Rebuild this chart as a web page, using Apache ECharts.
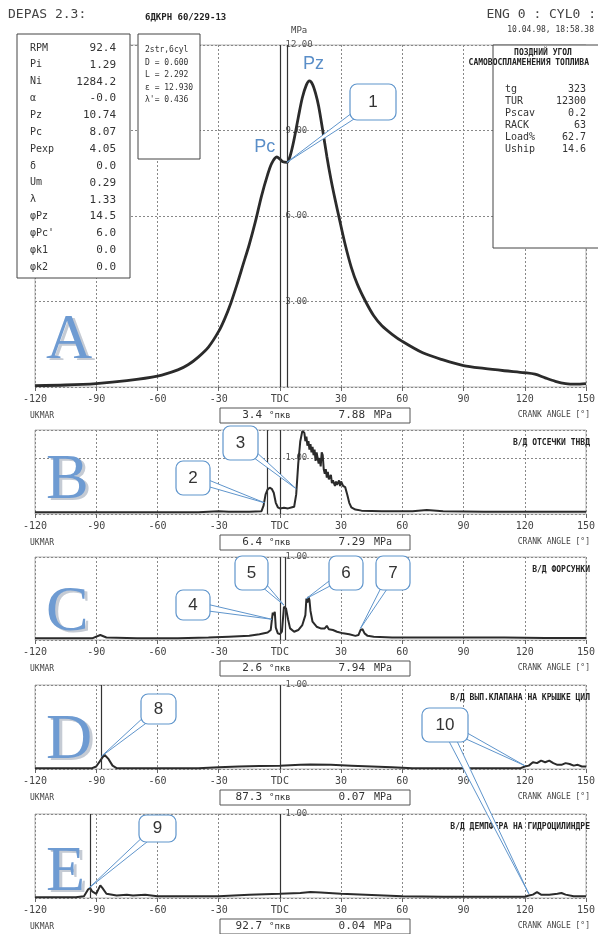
<!DOCTYPE html>
<html>
<head>
<meta charset="utf-8">
<script src="https://cdn.jsdelivr.net/npm/echarts@6/dist/echarts.min.js"></script>
<style>
  html, body { margin: 0; padding: 0; background: #fff; }
  #chart { width: 598px; height: 934px; }
</style>
</head>
<body>
<div id="chart"></div>
<script>
// A - давление в цилиндре
const angleA = [-120, -105, -90, -75, -60, -50, -45, -40, -35, -30, -27, -24, -21, -18, -15, -12, -9, -6, -4, -1.5, 0, 1.5, 3.4, 5, 7, 9, 11, 13, 14.5, 16, 17.5, 19, 21, 23, 25, 27, 29, 32, 35, 38, 42, 46, 50, 55, 60, 70, 80, 90, 100, 110, 120, 125, 130, 135, 140, 145, 150]
const pressA = [0.05, 0.07, 0.12, 0.22, 0.38, 0.6, 0.78, 1.05, 1.4, 1.95, 2.4, 2.95, 3.6, 4.3, 5.0, 5.8, 6.7, 7.45, 7.85, 8.07, 8.0, 7.9, 7.88, 8.1, 8.7, 9.45, 10.15, 10.6, 10.74, 10.62, 10.3, 9.85, 9.0, 8.1, 7.3, 6.6, 5.95, 5.0, 4.2, 3.6, 3.0, 2.5, 2.15, 1.85, 1.6, 1.2, 0.95, 0.75, 0.65, 0.57, 0.5, 0.45, 0.32, 0.2, 0.12, 0.1, 0.12]

// B - в/д отсечки ТНВД
const angleB = [-120, -100, -80, -60, -40, -30, -25, -15, -9, -8, -7, -6, -5, -4, -3, -2, -1, 0, 2, 4, 6, 7, 8, 9, 10, 11, 12, 12.5, 13, 13.5, 14, 14.5, 15, 15.5, 16, 16.5, 17, 17.5, 18, 18.5, 19, 19.5, 20, 20.5, 21, 21.5, 22, 22.5, 23, 23.5, 24, 25, 25.5, 26, 27, 27.5, 28, 29, 29.5, 30, 31, 32, 33, 34, 35, 37, 40, 50, 65, 72, 80, 100, 120, 150]
const pressB = [0.03, 0.03, 0.03, 0.03, 0.03, 0.05, 0.04, 0.04, 0.05, 0.15, 0.35, 0.44, 0.47, 0.45, 0.38, 0.2, 0.12, 0.1, 0.11, 0.1, 0.12, 0.13, 0.35, 0.9, 1.3, 1.48, 1.45, 1.3, 1.38, 1.22, 1.3, 1.15, 1.25, 1.1, 1.2, 1.05, 1.15, 0.95, 1.1, 1.0, 0.9, 1.0, 0.85, 1.1, 1.05, 0.8, 0.72, 0.8, 0.65, 0.75, 0.62, 0.7, 0.55, 0.6, 0.5, 0.58, 0.52, 0.6, 0.5, 0.58, 0.5, 0.48, 0.35, 0.2, 0.12, 0.08, 0.06, 0.05, 0.05, 0.07, 0.05, 0.04, 0.04, 0.04]

// C - в/д форсунки
const angleC = [-120, -100, -92, -88, -85, -70, -50, -35, -25, -15, -10, -6, -4.5, -3.5, -3, -2.5, -2, -1, 0, 1, 2, 2.5, 3, 3.5, 4, 5, 7, 9, 11, 12.5, 13, 13.5, 14, 14.5, 15, 16, 18, 20, 22, 23, 24, 26, 28, 31, 34, 37, 38.5, 39.5, 40.5, 41.5, 43, 46, 55, 70, 90, 110, 130, 150]
const pressC = [0.02, 0.02, 0.02, 0.06, 0.03, 0.02, 0.02, 0.03, 0.04, 0.05, 0.07, 0.09, 0.12, 0.33, 0.3, 0.34, 0.15, 0.08, 0.07, 0.1, 0.4, 0.42, 0.38, 0.4, 0.25, 0.14, 0.1, 0.12, 0.18, 0.3, 0.5, 0.45, 0.52, 0.48, 0.35, 0.22, 0.16, 0.14, 0.14, 0.17, 0.13, 0.12, 0.1, 0.08, 0.07, 0.05, 0.06, 0.12, 0.13, 0.08, 0.05, 0.04, 0.03, 0.03, 0.03, 0.03, 0.025, 0.025]

// D - в/д вып. клапана
const angleD = [-120, -100, -92, -90, -88, -86, -84, -82, -80, -60, -40, -30, -20, -10, 0, 10, 15, 25, 35, 45, 55, 65, 80, 100, 118, 120, 122, 124, 126, 128, 130, 132, 134, 136, 138, 140, 142, 144, 146, 148, 150]
const pressD = [0.01, 0.01, 0.01, 0.03, 0.1, 0.17, 0.12, 0.04, 0.01, 0.01, 0.01, 0.02, 0.03, 0.035, 0.04, 0.05, 0.055, 0.05, 0.04, 0.03, 0.02, 0.01, 0.01, 0.01, 0.01, 0.03, 0.04, 0.08, 0.07, 0.1, 0.08, 0.1, 0.07, 0.05, 0.05, 0.07, 0.06, 0.04, 0.05, 0.03, 0.03]

// E - в/д демпфера
const angleE = [-120, -100, -96, -94, -93, -92, -90, -89, -88, -87, -85, -80, -75, -72, -66, -60, -45, -30, -15, 0, 10, 15, 20, 30, 45, 60, 80, 100, 120, 122, 124, 126, 128, 132, 136, 138, 140, 144, 148, 150]
const pressE = [0.01, 0.01, 0.02, 0.1, 0.12, 0.08, 0.05, 0.1, 0.15, 0.12, 0.05, 0.03, 0.04, 0.03, 0.04, 0.02, 0.02, 0.02, 0.04, 0.05, 0.06, 0.07, 0.065, 0.05, 0.035, 0.02, 0.015, 0.015, 0.015, 0.03, 0.04, 0.07, 0.04, 0.04, 0.05, 0.06, 0.04, 0.02, 0.02, 0.02]

const yMax = [12, 1.5, 1, 1, 1]
const yStep = [3, 1, 1, 1, 1]
const cursorAngle = [3.4, -6.4, 2.6, -87.3, -92.7]
const readAngle = ['3.4', '6.4', '2.6', '87.3', '92.7']
const readPress = ['7.88', '7.29', '7.94', '0.07', '0.04']
const panelTitles = ['', 'В/Д ОТСЕЧКИ ТНВД', 'В/Д ФОРСУНКИ', 'В/Д ВЫП.КЛАПАНА НА КРЫШКЕ ЦИЛ', 'В/Д ДЕМПФЕРА НА ГИДРОЦИЛИНДРЕ']
const panelLetters = ['A', 'B', 'C', 'D', 'E']

const infoLabels = ['RPM', 'Pi', 'Ni', 'α', 'Pz', 'Pc', 'Pexp', 'δ', 'Um', 'λ', 'φPz', 'φPc\'', 'φk1', 'φk2']
const infoValues = ['92.4', '1.29', '1284.2', '-0.0', '10.74', '8.07', '4.05', '0.0', '0.29', '1.33', '14.5', '6.0', '0.0', '0.0']
const engineLines = ['2str,6cyl', 'D = 0.600', 'L = 2.292', 'ε = 12.930', 'λ\'= 0.436']
const extraLabels = ['tg', 'TUR', 'Pscav', 'RACK', 'Load%', 'Uship']
const extraValues = ['323', '12300', '0.2', '63', '62.7', '14.6']

const seriesData = [
  [angleA, pressA], [angleB, pressB], [angleC, pressC], [angleD, pressD], [angleE, pressE]
]

// раскладка панелей (px)
const GRID_LEFT = 35
const GRID_RIGHT = 6
const panels = [
  { top: 45, height: 342, letterBase: 363 },
  { top: 430, height: 84, letterBase: 503 },
  { top: 557, height: 83, letterBase: 635 },
  { top: 685, height: 84, letterBase: 763 },
  { top: 814, height: 84, letterBase: 895 }
]
// ось давления стоит на ВМТ (TDC)
const tdcOffset = (598 - GRID_LEFT - GRID_RIGHT) * 120 / 270

// выноски: номер, рамка [x, y, w, h], цели [панель, угол, значение]
const callouts = [
  { n: '1', box: [350, 84, 46, 36], targets: [[0, 3.4, 7.88]] },
  { n: '2', box: [176, 461, 34, 34], targets: [[1, -7.5, 0.2]] },
  { n: '3', box: [223, 426, 35, 34], targets: [[1, 8, 0.45]] },
  { n: '4', box: [176, 590, 34, 30], targets: [[2, -4, 0.25]] },
  { n: '5', box: [235, 556, 33, 34], targets: [[2, 2, 0.42]] },
  { n: '6', box: [329, 556, 34, 34], targets: [[2, 13, 0.5]] },
  { n: '7', box: [376, 556, 34, 34], targets: [[2, 39.5, 0.14]] },
  { n: '8', box: [141, 694, 35, 30], targets: [[3, -87.5, 0.15]] },
  { n: '9', box: [139, 815, 37, 27], targets: [[4, -93.5, 0.12]] },
  { n: '10', box: [422, 708, 46, 34], targets: [[3, 120, 0.04], [4, 122, 0.05]] }
]

const MONO = '"DejaVu Sans Mono", monospace'
const INK = '#2b2b2b'
const BLUE = '#5f95cc'

const chart = echarts.init(document.getElementById('chart'))

const grids = panels.map(p => ({ left: GRID_LEFT, right: GRID_RIGHT, top: p.top, height: p.height, show: true, borderColor: '#b5b5b5', borderWidth: 1 }))

const xAxes = panels.map((p, i) => ({
  type: 'value',
  gridIndex: i,
  min: -120,
  max: 150,
  interval: 30,
  axisLine: { show: false },
  axisTick: { show: true, length: 4, lineStyle: { color: '#666' } },
  axisLabel: {
    margin: 7,
    fontFamily: MONO,
    fontSize: 10,
    color: '#444',
    formatter: v => (v === 0 ? 'TDC' : String(v))
  },
  splitLine: { show: true, lineStyle: { color: '#888', type: [2, 2], width: 1 } }
}))

const yAxes = panels.map((p, i) => ({
  type: 'value',
  gridIndex: i,
  min: 0,
  max: yMax[i],
  interval: yStep[i],
  offset: -tdcOffset,
  axisLine: { show: false },
  axisTick: { show: false },
  axisLabel: {
    inside: true,
    margin: 3,
    fontFamily: MONO,
    fontSize: 9,
    color: '#555',
    formatter: v => (v === 0 || v % yStep[i] !== 0 ? '' : v.toFixed(2))
  },
  splitLine: { show: true, lineStyle: { color: '#888', type: [2, 2], width: 1 } }
}))

const series = seriesData.map(([xs, ys], i) => ({
  type: 'line',
  xAxisIndex: i,
  yAxisIndex: i,
  data: xs.map((x, k) => [x, ys[k]]),
  showSymbol: false,
  smooth: i === 0 ? 0.3 : false,
  lineStyle: { color: INK, width: i === 0 ? 2.8 : 2 },
  markLine: {
    silent: true,
    symbol: 'none',
    label: { show: false },
    lineStyle: { color: '#333', type: 'solid', width: 1.2 },
    data: [{ xAxis: 0 }, { xAxis: cursorAngle[i] }]
  }
}))

chart.setOption({
  animation: false,
  backgroundColor: '#fff',
  grid: grids,
  xAxis: xAxes,
  yAxis: yAxes,
  series: series
})

// --- подписи, таблицы и выноски ---
const txt = (x, y, text, o = {}) => ({
  type: 'text',
  x, y,
  z: o.z || 50,
  style: {
    text,
    fill: o.color || '#333',
    font: o.font || `10px ${MONO}`,
    align: o.align || 'left',
    verticalAlign: 'middle'
  }
})

const rect = (x, y, w, h, o = {}) => ({
  type: 'rect',
  z: o.z || 40,
  shape: { x, y, width: w, height: h, r: o.r || 0 },
  style: { fill: o.fill || '#fff', stroke: o.stroke || '#444', lineWidth: o.lw || 1 }
})

const g = []

// шапка
g.push(txt(8, 15, 'DEPAS 2.3:', { font: `13px ${MONO}`, color: '#444' }))
g.push(txt(145, 18, '6ДКРН 60/229-13', { font: `bold 9px ${MONO}`, color: '#222' }))
g.push(txt(291, 31, 'MPa', { font: `9px ${MONO}`, color: '#444' }))
g.push(txt(596, 15, 'ENG 0 : CYL0 :', { font: `13px ${MONO}`, color: '#444', align: 'right' }))
g.push(txt(594, 30, '10.04.98, 18:58.38', { font: `8px ${MONO}`, color: '#333', align: 'right' }))

// левая таблица
g.push(rect(17, 34, 113, 244))
infoLabels.forEach((l, k) => {
  const y = 48 + k * 16.85
  g.push(txt(30, y, l, { font: `10px ${MONO}`, z: 41 }))
  g.push(txt(116, y, infoValues[k], { font: `11px ${MONO}`, align: 'right', z: 41 }))
})

// параметры двигателя
g.push(rect(138, 34, 62, 125))
engineLines.forEach((l, k) => {
  g.push(txt(145, 50 + k * 12.5, l, { font: `8px ${MONO}`, z: 41 }))
})

// правая таблица
g.push(rect(493, 45, 110, 203))
g.push(txt(543, 53, 'ПОЗДНИЙ УГОЛ', { font: `bold 8px ${MONO}`, align: 'center', color: '#222', z: 41 }))
g.push(txt(589, 63, 'САМОВОСПЛАМЕНЕНИЯ ТОПЛИВА', { font: `bold 8px ${MONO}`, align: 'right', color: '#222', z: 41 }))
extraLabels.forEach((l, k) => {
  const y = 89 + k * 12
  g.push(txt(505, y, l, { font: `10px ${MONO}`, z: 41 }))
  g.push(txt(586, y, extraValues[k], { font: `10px ${MONO}`, align: 'right', z: 41 }))
})

// подписи под панелями и заголовки
panels.forEach((p, i) => {
  const base = p.top + p.height
  g.push(txt(30, base + 29, 'UKMAR', { font: `8px ${MONO}`, color: '#444' }))
  g.push(txt(590, base + 28, 'CRANK ANGLE [°]', { font: `8px ${MONO}`, color: '#444', align: 'right' }))
  g.push(rect(220, base + 21, 190, 15, { stroke: '#555' }))
  g.push(txt(262, base + 28.5, readAngle[i], { font: `11px ${MONO}`, align: 'right', z: 41 }))
  g.push(txt(269, base + 28.5, '°пкв', { font: `9px ${MONO}`, z: 41 }))
  g.push(txt(365, base + 28.5, readPress[i], { font: `11px ${MONO}`, align: 'right', z: 41 }))
  g.push(txt(374, base + 28.5, 'MPa', { font: `10px ${MONO}`, z: 41 }))
  if (panelTitles[i]) {
    g.push(txt(590, p.top + 13, panelTitles[i], { font: `bold 8px ${MONO}`, align: 'right', color: '#222' }))
  }
  // большая буква панели
  const ly = p.letterBase - 22
  g.push(txt(49, ly + 2, panelLetters[i], { font: '64px "Liberation Serif", serif', color: '#c5cbd4', z: 30 }))
  g.push(txt(46, ly, panelLetters[i], { font: '64px "Liberation Serif", serif', color: '#6e9bd2', z: 31 }))
})

// Pc / Pz
const pcPt = chart.convertToPixel({ gridIndex: 0 }, [-1.5, 8.07])
const pzPt = chart.convertToPixel({ gridIndex: 0 }, [14.5, 10.74])
g.push(txt(pcPt[0] - 12, pcPt[1] - 10, 'Pc', { font: '18px "Liberation Sans", Arial', color: '#5a8ec8', align: 'center' }))
g.push(txt(pzPt[0] + 4, pzPt[1] - 17, 'Pz', { font: '18px "Liberation Sans", Arial', color: '#5a8ec8', align: 'center' }))

// выноски
callouts.forEach(c => {
  const [bx, by, bw, bh] = c.box
  const cx = bx + bw / 2
  const cy = by + bh / 2
  c.targets.forEach(([gi, ang, val]) => {
    const [tx, ty] = chart.convertToPixel({ gridIndex: gi }, [ang, val])
    const dx = tx - cx
    const dy = ty - cy
    const len = Math.hypot(dx, dy)
    const px = -dy / len * 4
    const py = dx / len * 4
    g.push({
      type: 'polygon',
      z: 100,
      shape: { points: [[cx + px, cy + py], [tx, ty], [cx - px, cy - py]] },
      style: { fill: '#fff', stroke: BLUE, lineWidth: 1 }
    })
  })
  g.push(rect(bx, by, bw, bh, { r: 7, stroke: BLUE, lw: 1.2, z: 101 }))
  g.push(txt(cx, cy, c.n, { font: '17px "Liberation Sans", Arial', color: '#333', align: 'center', z: 102 }))
})

chart.setOption({ graphic: g })
</script>
</body>
</html>
